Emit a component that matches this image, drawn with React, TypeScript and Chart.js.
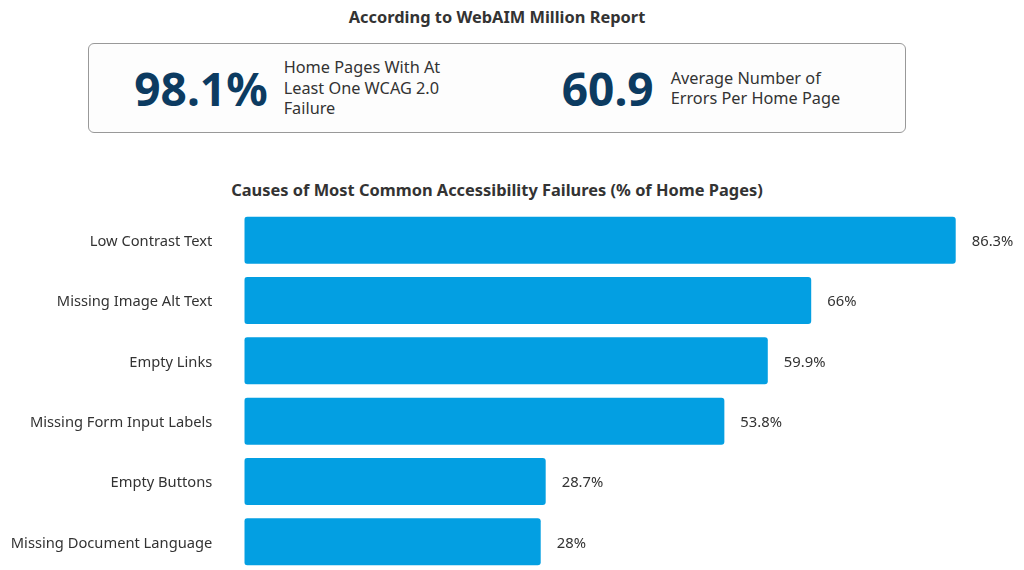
import React, { useEffect, useRef } from "react";
import { Chart, registerables } from "chart.js";

Chart.register(...registerables);

const categories = [
  "Low Contrast Text",
  "Missing Image Alt Text",
  "Empty Links",
  "Missing Form Input Labels",
  "Empty Buttons",
  "Missing Document Language",
];
const percentages = [86.3, 66, 59.9, 53.8, 28.7, 28];
const statValues = ["98.1%", "60.9"];
const statLabels = [
  ["Home Pages With At", "Least One WCAG 2.0", "Failure"],
  ["Average Number of", "Errors Per Home Page"],
];

const X_MIN = -13.64;
const X_MAX = 94.77;

const FONT = "'Noto Sans', sans-serif";
const BAR_COLOR = "#039fe2";
const TEXT_COLOR = "#333333";
const NAVY = "#0c3b61";

const valueLabels = {
  id: "valueLabels",
  afterDatasetsDraw(chart: any) {
    const ctx = chart.ctx;
    const meta = chart.getDatasetMeta(0);
    ctx.save();
    ctx.font = `14.8px ${FONT}`;
    ctx.fillStyle = TEXT_COLOR;
    ctx.textAlign = "left";
    ctx.textBaseline = "middle";
    meta.data.forEach((bar: any, i: number) => {
      ctx.fillText(`${percentages[i]}%`, bar.x + 16, bar.y + 1.5);
    });
    ctx.restore();
  },
};

function BarChart() {
  const ref = useRef<HTMLCanvasElement | null>(null);
  useEffect(() => {
    if (!ref.current) return;
    const chart = new Chart(ref.current, {
      type: "bar",
      data: {
        labels: categories,
        datasets: [
          {
            data: percentages,
            base: X_MIN,
            backgroundColor: BAR_COLOR,
            borderRadius: 3,
            borderSkipped: false,
            barPercentage: 0.78,
            categoryPercentage: 1,
          } as any,
        ],
      },
      options: {
        indexAxis: "y",
        animation: false,
        responsive: false,
        maintainAspectRatio: false,
        layout: { padding: { top: 9, bottom: 9, left: 0, right: 0 } },
        plugins: {
          legend: { display: false },
          tooltip: { enabled: false },
          title: { display: false },
        },
        scales: {
          x: {
            display: false,
            min: X_MIN,
            max: X_MAX,
          },
          y: {
            grid: { display: false, drawTicks: true, tickLength: 32 },
            border: { display: false },
            ticks: {
              color: TEXT_COLOR,
              font: { family: FONT, size: 14.7 },
              padding: 0,
              labelOffset: 1.5,
            },
            afterFit(scale: any) {
              scale.width = 236.3;
            },
          },
        },
      },
      plugins: [valueLabels],
    });
    return () => chart.destroy();
  }, []);
  return (
    <canvas
      ref={ref}
      width={1008}
      height={380}
      style={{ position: "absolute", left: 0, top: 193, width: 1008, height: 380 }}
    />
  );
}

function Stat({
  value,
  lines,
  gap,
  textWidth,
}: {
  value: string;
  lines: string[];
  gap: number;
  textWidth?: number;
}) {
  return (
    <div
      style={{
        flex: 1,
        display: "flex",
        alignItems: "center",
        justifyContent: "center",
      }}
    >
      <div
        style={{
          fontFamily: FONT,
          fontWeight: 700,
          fontSize: 46,
          color: NAVY,
          lineHeight: "50px",
          marginRight: gap,
        }}
      >
        {value}
      </div>
      <div
        style={{
          fontFamily: FONT,
          fontSize: 16.3,
          color: TEXT_COLOR,
          lineHeight: "20.5px",
          width: textWidth,
        }}
      >
        {lines.map((l, i) => (
          <div key={i} style={{ whiteSpace: "nowrap" }}>
            {l}
          </div>
        ))}
      </div>
    </div>
  );
}

const titleStyle: React.CSSProperties = {
  position: "absolute",
  left: 0,
  width: 978,
  height: 22,
  lineHeight: "22px",
  textAlign: "center",
  fontFamily: FONT,
  fontWeight: 700,
  fontSize: 16.4,
  color: TEXT_COLOR,
};

export default function App() {
  return (
    <div
      style={{
        position: "relative",
        width: 1008,
        height: 562,
        overflow: "hidden",
        background: "#fff",
      }}
    >
      <div style={{ ...titleStyle, top: -2 }}>According to WebAIM Million Report</div>
      <div
        style={{
          position: "absolute",
          left: 80,
          top: 35,
          width: 818,
          height: 90,
          boxSizing: "border-box",
          border: "1px solid #999",
          borderRadius: 6,
          background: "#fdfdfd",
          display: "flex",
        }}
      >
        <Stat value={statValues[0]} lines={statLabels[0]} gap={16} textWidth={168} />
        <Stat value={statValues[1]} lines={statLabels[1]} gap={17} />
      </div>
      <div style={{ ...titleStyle, top: 171 }}>
        Causes of Most Common Accessibility Failures (% of Home Pages)
      </div>
      <BarChart />
    </div>
  );
}
